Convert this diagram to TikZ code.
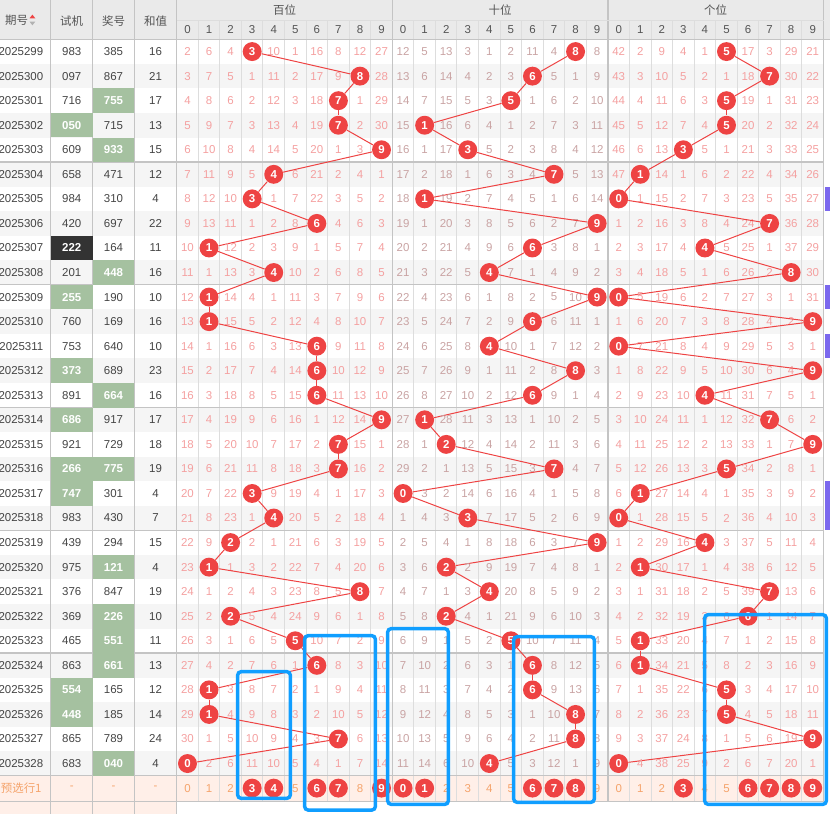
\documentclass[tikz,border=0pt]{standalone}
\usepackage{fontspec}
\setmainfont{Liberation Sans}
\newfontfamily\cjk{Noto Sans CJK SC}
\usepackage{xcolor}

\definecolor{headgray}{HTML}{EAEAEA}
\definecolor{rowgray}{HTML}{F5F5F5}
\definecolor{gridgray}{HTML}{DDDDDD}
\definecolor{sepgray}{HTML}{C4C4C4}
\definecolor{txtgray}{HTML}{444444}
\definecolor{headtxt}{HTML}{555555}
\definecolor{missred}{HTML}{F4A0A0}
\definecolor{missbrown}{HTML}{C9A3A3}
\definecolor{ballred}{HTML}{EE4343}
\definecolor{zugreen}{HTML}{A5C1A0}
\definecolor{baodark}{HTML}{333333}
\definecolor{peach}{HTML}{FFEFE8}
\definecolor{pickorange}{HTML}{F5A46C}
\definecolor{boxblue}{HTML}{109EFF}
\definecolor{markviolet}{HTML}{7B68EE}

\def\cutdigits#1#2#3{\gdef\hitA{#1}\gdef\hitB{#2}\gdef\hitC{#3}}

\begin{document}
\begin{tikzpicture}[
		x=0.75pt, y=-0.75pt,
		cell/.style={inner sep=0pt, font=\fontsize{8.6}{10}\selectfont},
		head/.style={cell, text=headtxt},
		data/.style={cell, text=txtgray},
		hl0/.style={data, minimum width=31.3pt, minimum height=18.4pt},
		hl1/.style={hl0, fill=zugreen, text=white, font=\fontsize{8.6}{10}\selectfont\bfseries},
		hl2/.style={hl0, fill=baodark, text=white, font=\fontsize{8.6}{10}\selectfont\bfseries},
		miss0/.style={cell, text=missred},
		miss1/.style={cell, text=missbrown},
		miss2/.style={cell, text=missred},
		ball/.style={circle, fill=ballred, text=white, inner sep=0pt, minimum size=14.2pt, font=\fontsize{8.6}{10}\selectfont\bfseries},
		link/.style={draw=ballred, line width=0.75pt},
		pick/.style={cell, text=pickorange},
		pickbox/.style={draw=boxblue, line width=2.6pt, rounded corners=2.5pt}
		]
		\useasboundingbox (0,0) rectangle (830,814);
		
		% Les fonds
		\fill[headgray] (0,0) rectangle (830,39.3);
		\foreach \r in {2,4,...,30}
			\fill[rowgray] (0,{39.3+24.55*(\r-1)}) rectangle (823.5,{39.3+24.55*\r});
		\fill[peach] (0,775.8) rectangle (823.5,801);
		\fill[peach] (0,801) rectangle (176.7,814);
		
		% La grille
		\foreach \k in {1,...,29}
			\draw[gridgray, line width=0.75pt] ({176.7+21.56*\k},20) -- ({176.7+21.56*\k},801);
		\foreach \x in {50.7,92.7,134.3,176.7}
			\draw[sepgray, line width=0.75pt] (\x,0) -- (\x,814);
		\foreach \x in {392.3,607.9,823.5}
			\draw[sepgray, line width=0.9pt] (\x,0) -- (\x,801);
		\draw[gridgray, line width=0.75pt] (176.7,20) -- (823.5,20);
		\draw[sepgray, line width=0.75pt] (0,39.3) -- (830,39.3);
		\foreach \r in {5,10,...,25}
			\draw[sepgray, line width=1pt] (0,{39.3+24.55*\r}) -- (823.5,{39.3+24.55*\r});
		\draw[sepgray, line width=0.75pt] (0,775.8) -- (823.5,775.8);
		\draw[sepgray, line width=0.75pt] (0,801) -- (823.5,801);
		
		% L'en-tete
		\node[head] (hqh) at (16.7,20.7) {\cjk 期号};
		\fill[ballred] (29.5,18.3) -- (35.3,18.3) -- (32.4,14.6) -- cycle;
		\fill[black!30] (29.5,21.6) -- (35.3,21.6) -- (32.4,25.3) -- cycle;
		\node[head] (hsj) at (71.7,20.7) {\cjk 试机};
		\node[head] (hjh) at (113.5,20.7) {\cjk 奖号};
		\node[head] (hhz) at (155.5,20.7) {\cjk 和值};
		\node[head] (hbai) at (284.5,10.5) {\cjk 百位};
		\node[head] (hshi) at (500.1,10.5) {\cjk 十位};
		\node[head] (hge) at (715.7,10.5) {\cjk 个位};
		\foreach \k in {0,...,29} {
			\pgfmathtruncatemacro\d{mod(\k,10)}
			\node[head] (hd\k) at ({176.7+21.56*(\k+0.5)},29.8) {\d};
		}
		
		% Les ecarts de depart
		\foreach \v [count=\d from 0] in {1,5,3,0,9,0,15,7,11,26}
			{\expandafter\xdef\csname m0-\d\endcsname{\v}}
		\foreach \v [count=\d from 0] in {11,4,12,2,0,1,10,3,0,7}
			{\expandafter\xdef\csname m1-\d\endcsname{\v}}
		\foreach \v [count=\d from 0] in {41,1,8,3,0,0,16,2,28,20}
			{\expandafter\xdef\csname m2-\d\endcsname{\v}}
		
		% Les tirages
		\foreach \qh/\sj/\jh/\hz/\fs/\fj [count=\r] in {
			2025299/983/385/16/0/0, 2025300/097/867/21/0/0, 2025301/716/755/17/0/1,
			2025302/050/715/13/1/0, 2025303/609/933/15/0/1, 2025304/658/471/12/0/0,
			2025305/984/310/4/0/0, 2025306/420/697/22/0/0, 2025307/222/164/11/2/0,
			2025308/201/448/16/0/1, 2025309/255/190/10/1/0, 2025310/760/169/16/0/0,
			2025311/753/640/10/0/0, 2025312/373/689/23/1/0, 2025313/891/664/16/0/1,
			2025314/686/917/17/1/0, 2025315/921/729/18/0/0, 2025316/266/775/19/1/1,
			2025317/747/301/4/1/0, 2025318/983/430/7/0/0, 2025319/439/294/15/0/0,
			2025320/975/121/4/0/1, 2025321/376/847/19/0/0, 2025322/369/226/10/0/1,
			2025323/465/551/11/0/1, 2025324/863/661/13/0/1, 2025325/554/165/12/1/0,
			2025326/448/185/14/1/0, 2025327/865/789/24/0/0, 2025328/683/040/4/0/1} {
			\pgfmathsetmacro\yy{39.3+24.55*(\r-0.5)}
			\pgfmathtruncatemacro\rp{\r-1}
			\node[data, anchor=east] (q\r) at (43.5,\yy) {\qh};
			\node[hl\fs] (s\r) at (71.7,\yy) {\sj};
			\node[hl\fj] (j\r) at (113.5,\yy) {\jh};
			\node[data] (z\r) at (155.5,\yy) {\hz};
			\expandafter\cutdigits\jh
			\foreach \p in {0,1,2} {
				\ifcase\p\relax \let\hit\hitA \or \let\hit\hitB \else \let\hit\hitC \fi
				\foreach \d in {0,...,9} {
					\pgfmathsetmacro\xx{176.7+21.56*(10*\p+\d+0.5)}
					\ifnum\d=\hit\relax
						\expandafter\xdef\csname m\p-\d\endcsname{0}
						\node[ball] (h\p-\r) at (\xx,\yy) {\d};
						\ifnum\r>1 \draw[link] (h\p-\rp) -- (h\p-\r); \fi
					\else
						\edef\ov{\csname m\p-\d\endcsname}
						\pgfmathtruncatemacro\nv{\ov+1}
						\expandafter\xdef\csname m\p-\d\endcsname{\nv}
						\node[miss\p] (c\p-\d-\r) at (\xx,\yy) {\nv};
					\fi
				}
			}
		}
		
		% Le preselection
		\node[pick] (pq) at (21.2,788.1) {\cjk 预选行1};
		\node[pick] (psj) at (71.7,788.1) {-};
		\node[pick] (pjh) at (113.5,788.1) {-};
		\node[pick] (phz) at (155.5,788.1) {-};
		\foreach \s [count=\k from 0] in {0,0,0,1,1,0,1,1,0,1, 1,1,0,0,0,0,1,1,1,0, 0,0,0,1,0,0,1,1,1,1} {
			\pgfmathtruncatemacro\d{mod(\k,10)}
			\pgfmathsetmacro\xx{176.7+21.56*(\k+0.5)}
			\ifnum\s=1 \node[ball] (p\k) at (\xx,788.1) {\d};
			\else \node[pick] (p\k) at (\xx,788.1) {\d}; \fi
		}
		
		% Les reperes violets
		\foreach \a/\b in {7/7,11/11,13/13,19/20}
			\fill[markviolet] (824.5,{39.3+24.55*(\a-1)}) rectangle (830,{39.3+24.55*\b});
		
		% Les cadres bleus
		\draw[pickbox] (237.7,671.7) rectangle (290.3,798.3);
		\draw[pickbox] (304.7,635.7) rectangle (375.3,810);
		\draw[pickbox] (387.7,628.7) rectangle (448.3,804.3);
		\draw[pickbox] (513.7,636.7) rectangle (594.3,802.3);
		\draw[pickbox] (704.7,614.7) rectangle (826.3,804.3);
	\end{tikzpicture}
\end{document}
